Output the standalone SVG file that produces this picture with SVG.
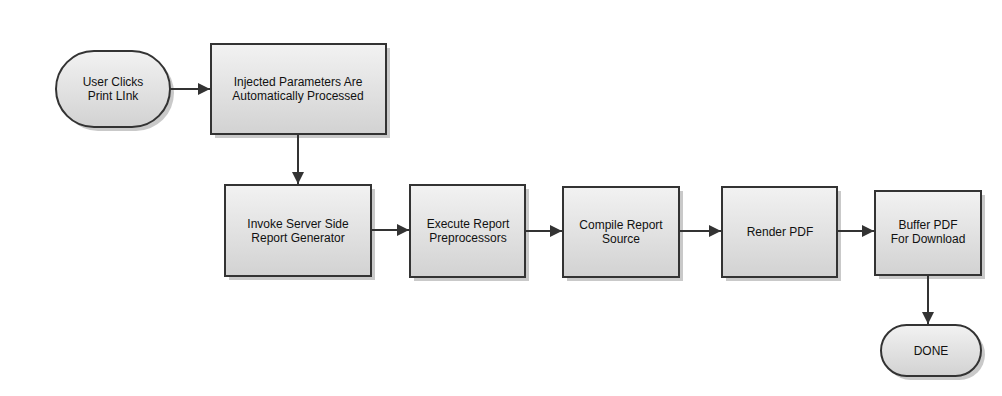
<svg xmlns="http://www.w3.org/2000/svg" width="1002" height="396" viewBox="0 0 1002 396">
<defs>
<linearGradient id="g" x1="0" y1="0" x2="0" y2="1">
<stop offset="0" stop-color="#f2f2f2"/>
<stop offset="1" stop-color="#d2d2d2"/>
</linearGradient>
<marker id="arr" markerWidth="12" markerHeight="12" viewBox="0 0 12 12" refX="12" refY="6" orient="auto" markerUnits="userSpaceOnUse">
<path d="M0,0 L12,6 L0,12 Z" fill="#333"/>
</marker>
</defs>
<style>
.sh{fill:#bcbcbc;opacity:0.8}
.n{fill:url(#g);stroke:#333;stroke-width:2}
.t{font-family:"Liberation Sans",Arial,sans-serif;font-size:12px;fill:#111;text-anchor:middle}
.c{stroke:#333;stroke-width:2;fill:none;marker-end:url(#arr)}
</style>
<rect width="1002" height="396" fill="#fff"/>
<g id="start">
<rect class="sh" x="60" y="55" width="114" height="76" rx="38"/>
<rect class="n" x="56" y="51" width="114" height="76" rx="38"/>
<text class="t" x="113" y="86">User Clicks</text>
<text class="t" x="113" y="100">Print LInk</text>
</g>
<g id="inject">
<rect class="sh" x="215" y="48" width="175" height="90"/>
<rect class="n" x="211" y="44" width="175" height="90"/>
<text class="t" x="298" y="86">Injected Parameters Are</text>
<text class="t" x="298" y="100">Automatically Processed</text>
</g>
<g id="invoke">
<rect class="sh" x="229" y="189" width="146" height="91"/>
<rect class="n" x="225" y="185" width="146" height="91"/>
<text class="t" x="298" y="228">Invoke Server Side</text>
<text class="t" x="298" y="242">Report Generator</text>
</g>
<g id="execute">
<rect class="sh" x="414" y="189" width="115" height="92"/>
<rect class="n" x="410" y="185" width="115" height="92"/>
<text class="t" x="468" y="228">Execute Report</text>
<text class="t" x="468" y="242">Preprocessors</text>
</g>
<g id="compile">
<rect class="sh" x="567" y="191" width="116" height="90"/>
<rect class="n" x="563" y="187" width="116" height="90"/>
<text class="t" x="621" y="229">Compile Report</text>
<text class="t" x="621" y="243">Source</text>
</g>
<g id="render">
<rect class="sh" x="726" y="191" width="115" height="90"/>
<rect class="n" x="722" y="187" width="115" height="90"/>
<text class="t" x="780" y="236">Render PDF</text>
</g>
<g id="buffer">
<rect class="sh" x="879" y="195" width="106" height="84"/>
<rect class="n" x="875" y="191" width="106" height="84"/>
<text class="t" x="928" y="229">Buffer PDF</text>
<text class="t" x="928" y="243">For Download</text>
</g>
<g id="done">
<rect class="sh" x="885" y="329" width="100" height="51" rx="25.5"/>
<rect class="n" x="881" y="325" width="100" height="51" rx="25.5"/>
<text class="t" x="931" y="355">DONE</text>
</g>
<g id="connectors">
<line class="c" x1="170" y1="89" x2="210" y2="89"/>
<line class="c" x1="298" y1="134" x2="298" y2="184"/>
<line class="c" x1="371" y1="230" x2="409" y2="230"/>
<line class="c" x1="525" y1="231" x2="562" y2="231"/>
<line class="c" x1="679" y1="231" x2="721" y2="231"/>
<line class="c" x1="837" y1="231" x2="874" y2="231"/>
<line class="c" x1="928" y1="275" x2="928" y2="324"/>
</g>
</svg>
